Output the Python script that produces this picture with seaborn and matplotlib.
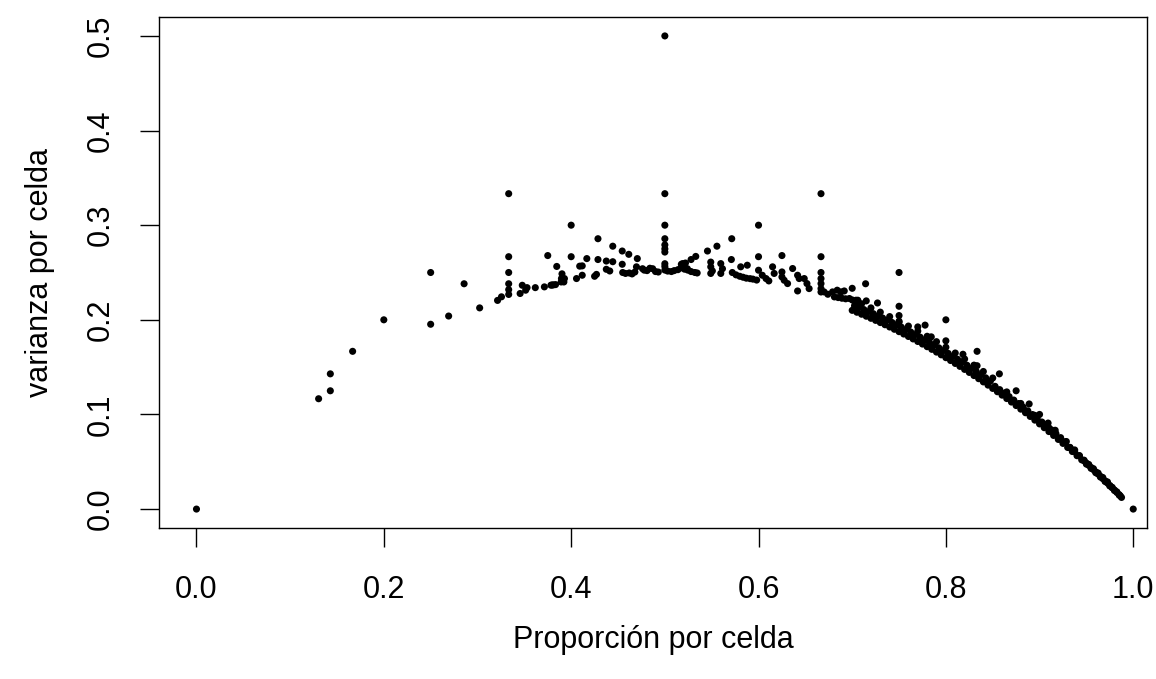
import numpy as np
import pandas as pd
import matplotlib
matplotlib.use("Agg")
import matplotlib.pyplot as plt
import seaborn as sns

# ---- Data ----
# scattered / outlying cells (small n)
prop_disperso = [0.0, 1.0, 0.5, 0.3333, 0.5, 0.6667, 0.25, 0.75, 0.4, 0.6, 0.5, 0.2, 0.8,
                 0.1667, 0.1429, 0.1429, 0.1304, 0.25, 0.2692, 0.2857, 0.3023, 0.3214, 0.3256,
                 0.3333, 0.3333, 0.3333, 0.3333, 0.3333, 0.3455, 0.3478, 0.3514, 0.3529, 0.3617,
                 0.3714, 0.375, 0.3784, 0.3797, 0.3810, 0.3833, 0.3846, 0.3893, 0.3902, 0.3896,
                 0.3922, 0.3928, 0.4, 0.4057, 0.4091, 0.4118, 0.4118, 0.4167, 0.4250, 0.4270,
                 0.4286, 0.4286, 0.4375, 0.4375, 0.4412, 0.4444, 0.4444, 0.4545, 0.4545, 0.4615,
                 0.4706, 0.4697, 0.4762]
var_disperso = [0.0, 0.0, 0.5, 0.3333, 0.3333, 0.3333, 0.25, 0.25, 0.3, 0.3, 0.3, 0.2, 0.2,
                0.1667, 0.1429, 0.1250, 0.1166, 0.1953, 0.2040, 0.2381, 0.2126, 0.2205, 0.2243,
                0.2667, 0.2500, 0.2381, 0.2319, 0.2268, 0.2278, 0.2365, 0.2313, 0.2340, 0.2340,
                0.2348, 0.2679, 0.2366, 0.2368, 0.2369, 0.2372, 0.2564, 0.2400, 0.2486, 0.2436,
                0.2400, 0.2436, 0.2667, 0.2436, 0.2567, 0.2570, 0.2471, 0.2647, 0.2460, 0.2480,
                0.2857, 0.2637, 0.2621, 0.2534, 0.2516, 0.2778, 0.2614, 0.2727, 0.2587, 0.2692,
                0.2647, 0.2560, 0.2540]

# cells around p = 0.45 - 0.72
prop_centro = [0.455, 0.458, 0.462, 0.465, 0.468, 0.478, 0.481, 0.484, 0.487, 0.490, 0.493,
               0.5, 0.5, 0.5, 0.5, 0.5, 0.5, 0.5, 0.503, 0.507, 0.510, 0.514, 0.5176, 0.524,
               0.5455, 0.5556, 0.5714, 0.6, 0.625, 0.6667, 0.6667, 0.7143, 0.7,
               0.533, 0.528, 0.522, 0.519, 0.5175, 0.521, 0.5245, 0.528, 0.532, 0.5345,
               0.549, 0.549, 0.5507, 0.549, 0.5597, 0.5615, 0.5597, 0.571,
               0.572, 0.576, 0.580, 0.5835, 0.587, 0.591, 0.594, 0.598, 0.581, 0.588, 0.6,
               0.604, 0.608, 0.611, 0.615, 0.6167, 0.625, 0.625, 0.6274, 0.631, 0.6364,
               0.6417, 0.6434, 0.6417, 0.6488, 0.6517, 0.654, 0.6667, 0.6667, 0.6667, 0.6667,
               0.670, 0.674, 0.679, 0.684, 0.688, 0.6915, 0.681, 0.685, 0.689, 0.693, 0.697,
               0.704, 0.7076, 0.706, 0.715, 0.727]
var_centro = [0.2500, 0.2490, 0.2495, 0.2485, 0.2505, 0.2525, 0.2520, 0.2545, 0.2540, 0.2510, 0.2505,
              0.2857, 0.2792, 0.2750, 0.2716, 0.2593, 0.2564, 0.2526, 0.2515, 0.2510, 0.2520, 0.2530,
              0.2587, 0.2540,
              0.2727, 0.2778, 0.2857, 0.2667, 0.2679, 0.2667, 0.2500, 0.2381, 0.2333,
              0.2670, 0.2637, 0.2600, 0.2594, 0.2550, 0.2535, 0.2525, 0.2510, 0.2500, 0.2495,
              0.2610, 0.2560, 0.2517, 0.2490, 0.2594, 0.2540, 0.2490, 0.2637,
              0.2500, 0.2475, 0.2460, 0.2450, 0.2440, 0.2435, 0.2430, 0.2420, 0.2560, 0.2577, 0.2524,
              0.2471, 0.2436, 0.2411, 0.2560, 0.2490, 0.2506, 0.2453, 0.2418, 0.2383, 0.2542,
              0.2471, 0.2436, 0.2305, 0.2436, 0.2383, 0.2330, 0.2436, 0.2383, 0.2330, 0.2294,
              0.2295, 0.2270, 0.2295, 0.2313, 0.2295, 0.2305, 0.2242, 0.2235, 0.2228, 0.2222, 0.2225,
              0.2207, 0.2172, 0.2207, 0.2200, 0.2178]

# upper "comb" of cells on the right side
prop_peine = [0.75, 0.75, 0.75, 0.7778, 0.8, 0.8333, 0.8333, 0.8182, 0.8571, 0.875, 0.8889,
              0.9, 0.9091, 0.9167, 0.9286, 0.9375, 0.7844, 0.77]
var_peine = [0.2143, 0.2045, 0.1974, 0.1944, 0.1778, 0.1667, 0.1515, 0.1636, 0.1429, 0.1250, 0.1111,
             0.1000, 0.0909, 0.0833, 0.0714, 0.0625, 0.1820, 0.1925]

# dense band of large cells (lower edge)
prop_banda = [0.700, 0.705, 0.710, 0.715, 0.720, 0.725, 0.730, 0.735, 0.740, 0.745, 0.750,
              0.755, 0.760, 0.765, 0.770, 0.775, 0.780, 0.785, 0.790, 0.795, 0.800, 0.805,
              0.810, 0.815, 0.820, 0.825, 0.830, 0.835, 0.840, 0.845, 0.850, 0.855, 0.860,
              0.865, 0.870, 0.875, 0.880, 0.885, 0.890, 0.895, 0.900, 0.905, 0.910, 0.915,
              0.920, 0.925, 0.930, 0.935, 0.940, 0.945, 0.950, 0.955, 0.960, 0.965, 0.970,
              0.975, 0.980, 0.985, 0.9875]
var_banda = [0.2100, 0.2080, 0.2059, 0.2038, 0.2016, 0.1994, 0.1971, 0.1948, 0.1924, 0.1900, 0.1875,
             0.1850, 0.1824, 0.1798, 0.1771, 0.1744, 0.1716, 0.1688, 0.1659, 0.1630, 0.1600, 0.1570,
             0.1539, 0.1508, 0.1476, 0.1444, 0.1411, 0.1378, 0.1344, 0.1310, 0.1275, 0.1240, 0.1204,
             0.1168, 0.1131, 0.1094, 0.1056, 0.1018, 0.0979, 0.0940, 0.0900, 0.0860, 0.0819, 0.0778,
             0.0736, 0.0694, 0.0651, 0.0608, 0.0564, 0.0520, 0.0475, 0.0430, 0.0384, 0.0338, 0.0291,
             0.0244, 0.0196, 0.0148, 0.0123]

# dense band (second row, slightly above)
prop_banda2 = [0.7025, 0.7075, 0.7125, 0.7175, 0.7225, 0.7275, 0.7325, 0.7375, 0.7425, 0.7475,
               0.7525, 0.7575, 0.7625, 0.7675, 0.7725, 0.7775, 0.7825, 0.7875, 0.7925, 0.7975,
               0.8025, 0.8075, 0.8125, 0.8175, 0.8225, 0.8275, 0.8325, 0.8375, 0.8425, 0.8475,
               0.8525, 0.8575, 0.8625, 0.8675, 0.8725, 0.8775, 0.8825, 0.8875, 0.8925, 0.8975,
               0.9025, 0.9075, 0.9125, 0.9175, 0.9225, 0.9275, 0.9325, 0.9375, 0.9425, 0.9475,
               0.9525, 0.9575, 0.9625, 0.9675, 0.9725, 0.9775, 0.9825]
var_banda2 = [0.2150, 0.2129, 0.2108, 0.2087, 0.2065, 0.2042, 0.2019, 0.1996, 0.1972, 0.1947,
              0.1922, 0.1897, 0.1871, 0.1844, 0.1817, 0.1790, 0.1762, 0.1733, 0.1704, 0.1675,
              0.1645, 0.1614, 0.1583, 0.1552, 0.1520, 0.1487, 0.1454, 0.1421, 0.1387, 0.1352,
              0.1297, 0.1262, 0.1226, 0.1189, 0.1152, 0.1115, 0.1077, 0.1038, 0.0999, 0.0960,
              0.0920, 0.0879, 0.0838, 0.0797, 0.0755, 0.0712, 0.0649, 0.0606, 0.0562, 0.0517,
              0.0472, 0.0427, 0.0381, 0.0334, 0.0287, 0.0230, 0.0182]

# sparse third row above the band
prop_banda3 = [0.70, 0.71, 0.72, 0.73, 0.74, 0.75, 0.76, 0.77, 0.78, 0.79, 0.80, 0.81, 0.82,
               0.83, 0.84, 0.85, 0.865, 0.88, 0.895, 0.91]
var_banda3 = [0.2210, 0.2169, 0.2126, 0.2081, 0.2034, 0.1985, 0.1934, 0.1881, 0.1826, 0.1769,
              0.1710, 0.1649, 0.1586, 0.1521, 0.1454, 0.1385, 0.1238, 0.1116, 0.0990, 0.0859]

# in-between row filling the band
prop_banda4 = [0.7025, 0.7125, 0.7225, 0.7325, 0.7425, 0.7525, 0.7625, 0.7725, 0.7825, 0.7925,
               0.8025, 0.8125, 0.8225, 0.8325, 0.8425, 0.8525, 0.8625, 0.8725, 0.8825, 0.8925,
               0.9025, 0.9125, 0.9225, 0.9325, 0.9425]
var_banda4 = [0.2120, 0.2078, 0.2035, 0.1989, 0.1942, 0.1892, 0.1841, 0.1787, 0.1732, 0.1674,
              0.1615, 0.1553, 0.1490, 0.1424, 0.1357, 0.1280, 0.1209, 0.1135, 0.1060, 0.0982,
              0.0902, 0.0820, 0.0737, 0.0652, 0.0565]

# tail of the band (large cells close to p = 1)
prop_cola = [0.9475, 0.9500, 0.9525, 0.9550, 0.9575, 0.9600, 0.9625, 0.9650, 0.9675, 0.9700,
             0.9725, 0.9750, 0.9775, 0.9800, 0.9825, 0.9850, 0.9862]
var_cola = [0.0510, 0.0486, 0.0463, 0.0440, 0.0417, 0.0393, 0.0370, 0.0346, 0.0322, 0.0298,
            0.0275, 0.0250, 0.0225, 0.0201, 0.0176, 0.0152, 0.0139]

x_ticks = [0.0, 0.2, 0.4, 0.6, 0.8, 1.0]
y_ticks = [0.0, 0.1, 0.2, 0.3, 0.4, 0.5]
x_label = "Proporción por celda"
y_label = "varianza por celda"

df = pd.DataFrame({
    "prop": prop_disperso + prop_centro + prop_peine + prop_banda + prop_banda2
            + prop_banda3 + prop_banda4 + prop_cola,
    "var": var_disperso + var_centro + var_peine + var_banda + var_banda2
           + var_banda3 + var_banda4 + var_cola,
})

sns.set_style("white")
plt.rcParams["font.family"] = ["Liberation Sans", "DejaVu Sans"]
plt.rcParams["text.color"] = "black"
plt.rcParams["axes.labelcolor"] = "black"
plt.rcParams["xtick.color"] = "black"
plt.rcParams["ytick.color"] = "black"

fig = plt.figure(figsize=(11.56, 6.79), dpi=100)
ax = fig.add_axes([159 / 1156, 1 - 528 / 679, (1147 - 159) / 1156, (528 - 17) / 679])

sns.scatterplot(data=df, x="prop", y="var", ax=ax, color="black", s=26,
                edgecolor="none", linewidth=0, marker="o")

ax.set_xlim(-0.04, 1.0147)
ax.set_ylim(-0.02, 0.52)
ax.set_xticks(x_ticks)
ax.set_yticks(y_ticks)
ax.set_xticklabels([f"{t:.1f}" for t in x_ticks], fontsize=22, color="black")
ax.set_yticklabels([f"{t:.1f}" for t in y_ticks], fontsize=22, rotation=90, va="center",
                   color="black")
ax.tick_params(axis="both", direction="out", length=13.5, width=1.0, color="black",
               labelcolor="black", bottom=True, left=True)
ax.tick_params(axis="x", pad=20)
ax.tick_params(axis="y", pad=18)
for sp in ax.spines.values():
    sp.set_visible(True)
    sp.set_color("black")
    sp.set_linewidth(1.0)

ax.set_xlabel(x_label, fontsize=22, labelpad=15, color="black")
ax.set_ylabel(y_label, fontsize=22, labelpad=22, color="black")

fig.savefig("out.png", dpi=100, facecolor="white")
